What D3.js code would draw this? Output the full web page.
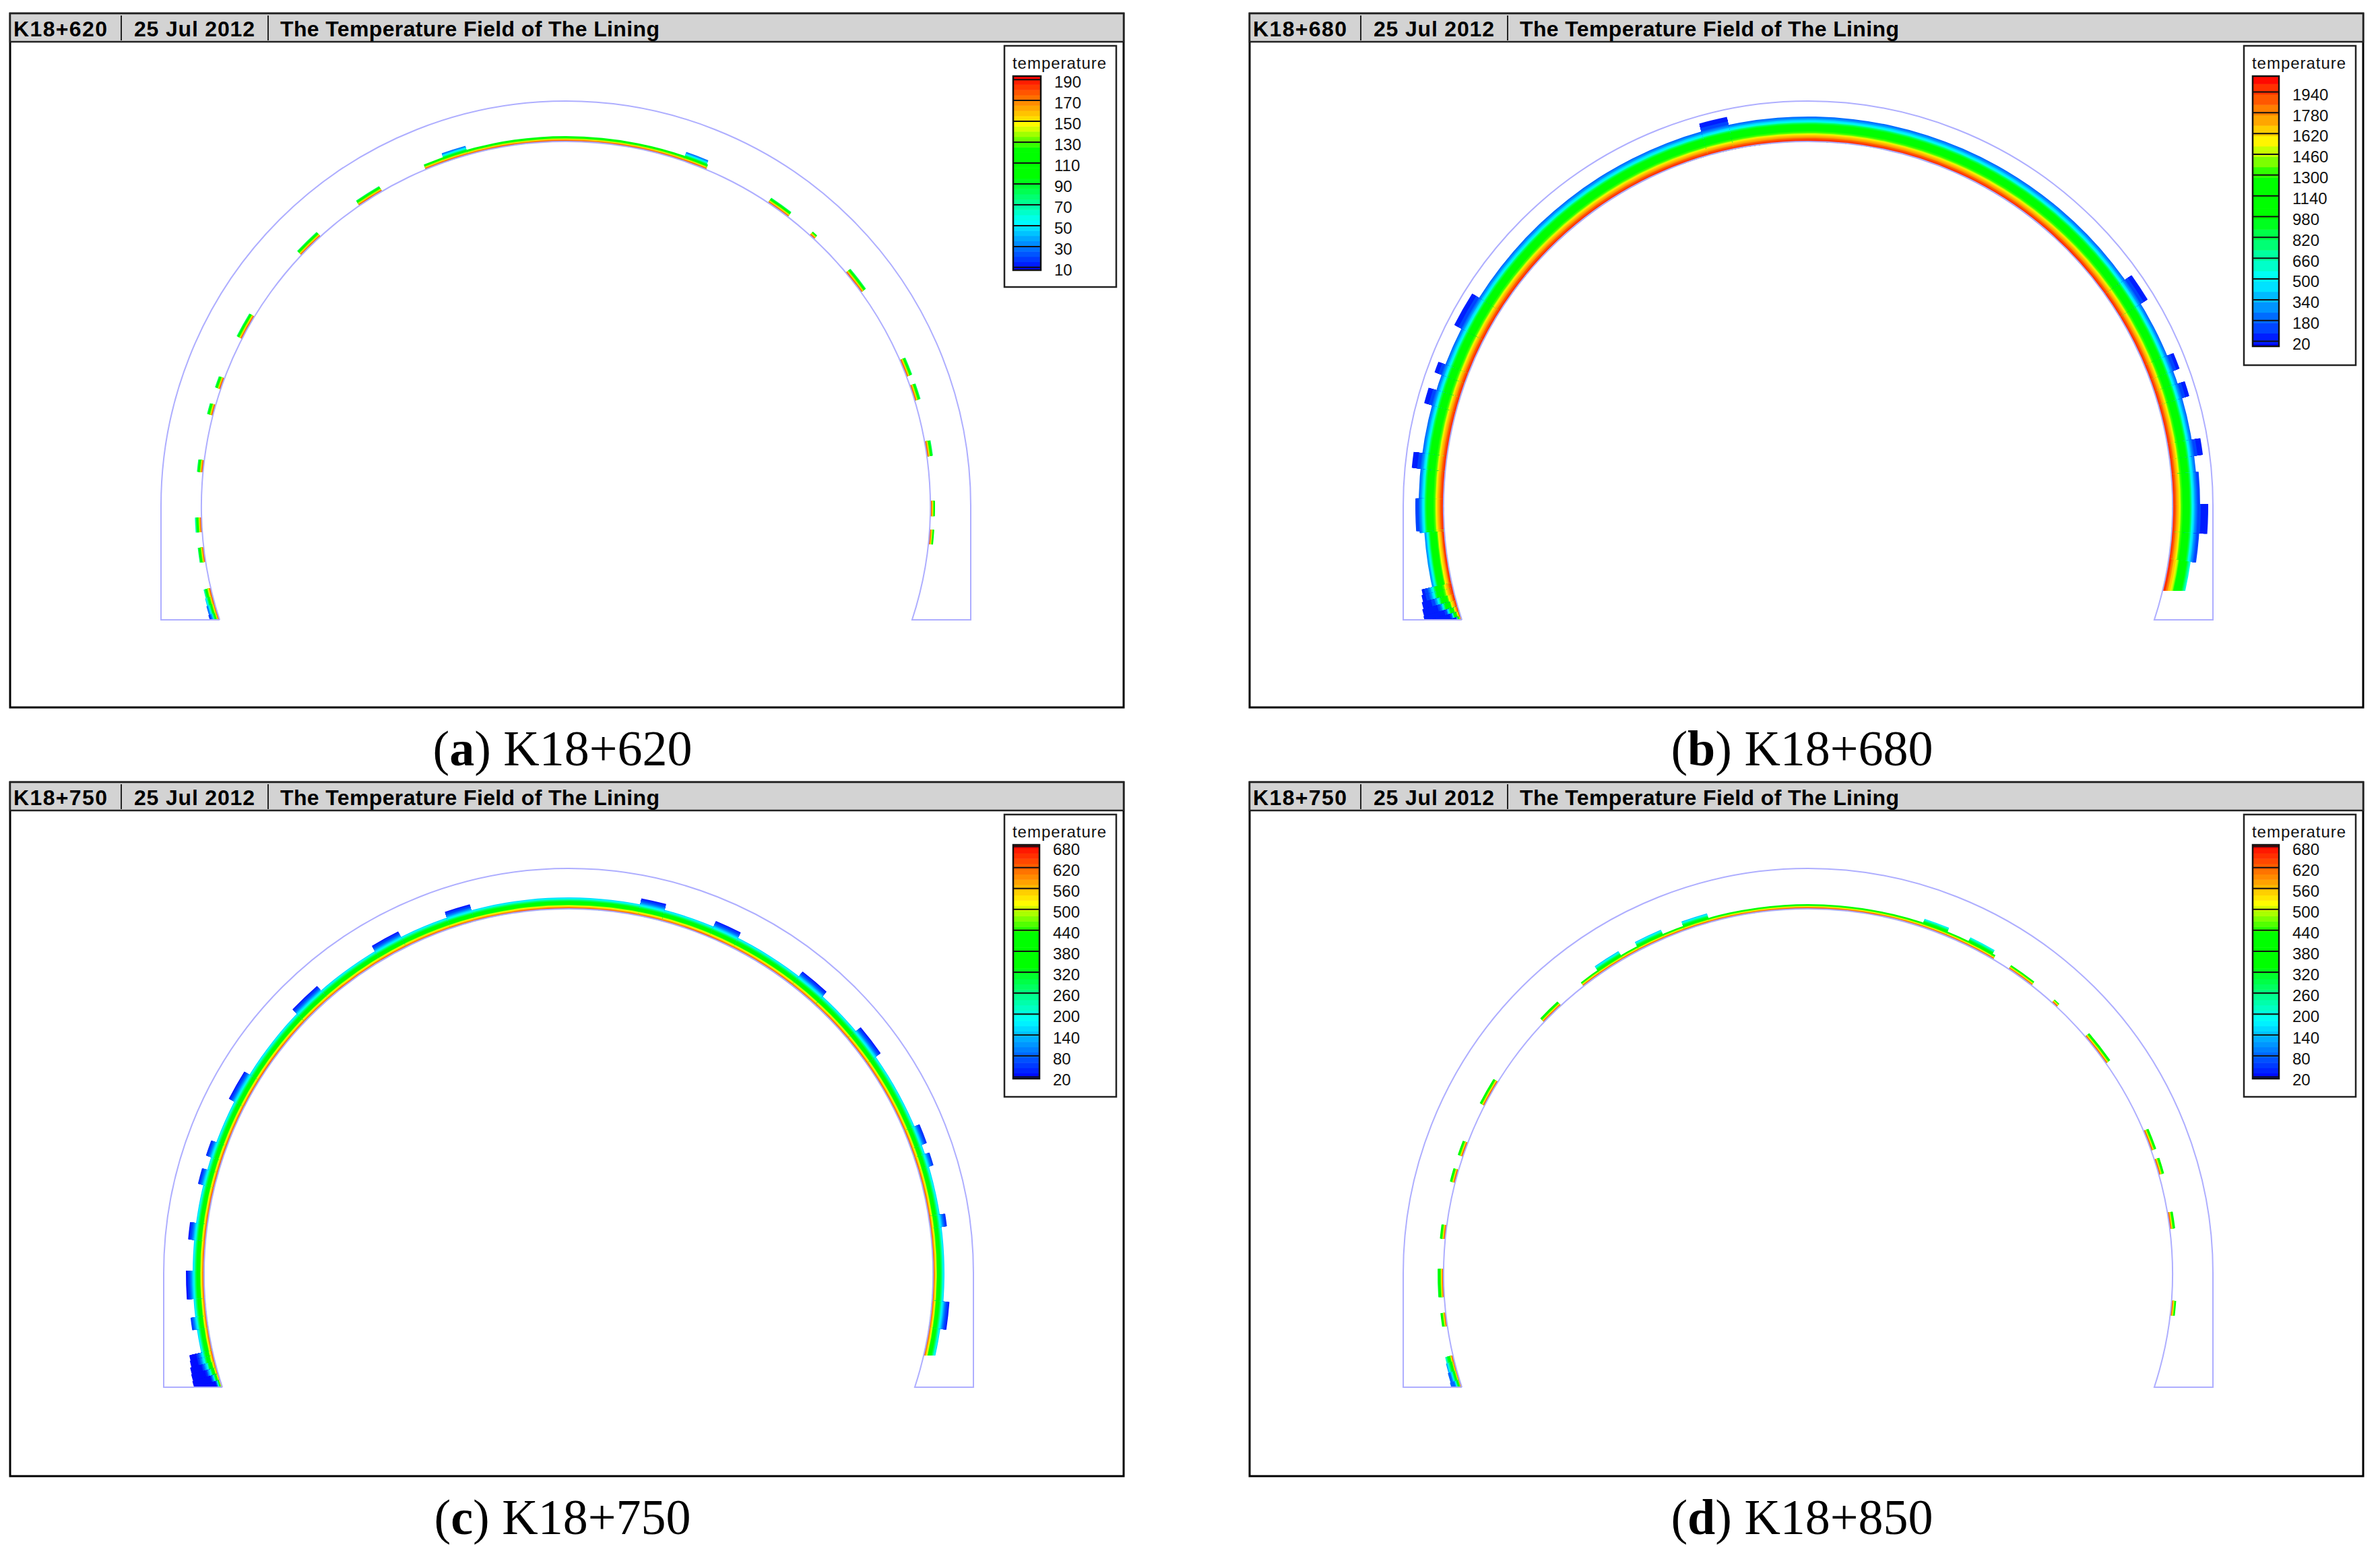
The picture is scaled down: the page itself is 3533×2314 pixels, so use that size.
<!DOCTYPE html>
<html>
<head>
<meta charset="utf-8">
<script src="https://cdn.jsdelivr.net/npm/d3@7"></script>
<style>
  html, body { margin: 0; padding: 0; background: #fff; }
  svg { display: block; }
  text { font-family: "Liberation Sans", Arial, sans-serif; }
  .caption { font-family: "Liberation Serif", "Times New Roman", serif; font-size: 74px; }
</style>
</head>
<body>
<svg id="chart" width="3533" height="2314"></svg>
<script>
// panel names
const sections = ["K18+620", "K18+680", "K18+750", "K18+750"]
const captionLetters = ["a", "b", "c", "d"]
const captionNames = ["K18+620", "K18+680", "K18+750", "K18+850"]
const dateLabel = "25 Jul 2012"
const titleLabel = "The Temperature Field of The Lining"

// legend tick labels
const ticksA = [190, 170, 150, 130, 110, 90, 70, 50, 30, 10]
const ticksB = [1940, 1780, 1620, 1460, 1300, 1140, 980, 820, 660, 500, 340, 180, 20]
const ticksC = [680, 620, 560, 500, 440, 380, 320, 260, 200, 140, 80, 20]
const ticksD = [680, 620, 560, 500, 440, 380, 320, 260, 200, 140, 80, 20]

// temperature range of each colour bar and width of one colour step
const rangeA = [7, 193], stepA = 5
const rangeB = [-21, 2059], stepB = 80
const rangeC = [14, 684], stepC = 15
const rangeD = [14, 684], stepD = 15

// temperature through the lining: depth from the inner face (cm) -> temperature
const depthA = [0, 2, 3.5, 5, 7, 9, 11, 14, 20]
const tempA = [193, 170, 150, 125, 100, 70, 45, 22, 8]
const depthB = [0, 4, 7, 11, 14, 25, 30, 34, 37, 46]
const tempB = [2050, 1900, 1700, 1550, 1300, 950, 500, 280, 150, 20]
const depthC = [0, 3, 5, 7, 12, 15, 19, 22, 26]
const tempC = [684, 560, 500, 400, 300, 180, 110, 60, 20]
const depthD = [0, 2, 4, 8, 12, 16]
const tempD = [684, 600, 480, 330, 180, 80]

// lining geometry, cm
const innerRadius = 541
const outerRadius = 601
const baseDrop = 169
const rightCutA = 169, rightCutB = 126, rightCutC = 122, rightCutD = 169

// heated patches: [start angle, end angle, depth, squeeze], degrees clockwise from the crown
const cellsA = [
    [-22.6, 22.6, 8], [-19.4, -15.6, 14], [18.8, 22.4, 14],
    [-34.5, -30.3, 9], [-46.5, -42.3, 9], [-62.7, -58.7, 9], [-71.3, -69.5, 9], [-75.6, -73.9, 9],
    [-84.7, -82.8, 9], [-94.1, -91.8, 10], [-98.8, -96.5, 9],
    [-104.4, -103, 11, 1.1], [-105.6, -104.4, 12, 1], [-107, -105.6, 13, .9], [-108.4, -107, 14, .8],
    [33.7, 37.5, 9], [42, 42.9, 7], [50.2, 54.1, 9], [66.4, 69.2, 9], [70.7, 73.2, 9], [79.8, 82.2, 9],
    [89.2, 91.6, 7], [93.7, 96, 7]
]
const cellsB = [
    [-94, 85, 37], [85, 98.3, 41], [98.3, 103.5, 33, 1.1], [-103.5, -94, 30, .85],
    [-15.9, -11.8, 49], [54.5, 58.7, 49], [67.3, 69.7, 47], [71.7, 73.9, 48], [80.2, 82.6, 50], [89.7, 94, 53],
    [-62.9, -57.7, 49], [-70.3, -68.7, 48], [-75, -72.7, 49], [-84.5, -82.2, 50], [-93.7, -88.9, 42],
    [-103, -102.2, 46, 1], [-104, -103, 48, 1], [-105, -104, 50, .85], [-106, -105, 52, .7], [-106.8, -106, 53, .5],
    [-107.6, -106.8, 54, .35], [-108.4, -107.6, 54, .2]
]
const cellsC = [
    [-103.3, 103.5, 17],
    [-18.9, -15, 26], [-31, -26.5, 26], [-46.3, -41.2, 26], [-62.8, -58.1, 26], [-72, -69.6, 25], [-76.4, -74, 25],
    [-84.9, -82.3, 26], [-93.9, -89.6, 27], [-98.6, -96.7, 24],
    [11, 14.8, 26], [22.7, 26.8, 26], [37.8, 42.5, 26], [49.9, 54.8, 26], [67, 70, 25], [71.5, 73.5, 24],
    [81, 82.9, 25], [94.3, 98.5, 26],
    [-103, -102.2, 35, 1], [-104, -103, 36, 1], [-105, -104, 38, .85], [-106, -105, 39, .7], [-107, -106, 40, .5],
    [-108.4, -107, 41, .3]
]
const cellsD = [
    [-38, 30.5, 7],
    [-34.8, -30.5, 14], [-27.6, -23.2, 14], [-19.8, -15.7, 14], [18.2, 22.2, 13], [25.8, 30, 13],
    [-46.4, -42.7, 8], [-62.6, -58.3, 8], [-71.3, -69, 8], [-75.6, -73.5, 8], [-84.6, -82.4, 8],
    [-93.7, -89.3, 9], [-98.3, -96.2, 8],
    [-104, -103, 12, 1], [-105.5, -104, 13, .85], [-107, -105.5, 14, .7], [-108.4, -107, 15, .55],
    [33.4, 37.8, 7], [42, 43, 6], [49.5, 54.8, 8], [67, 70.3, 8], [71.8, 74.3, 8], [80.4, 83, 8], [94.3, 96.6, 7]
]

// rainbow used by the solver: fraction of the range -> colour
const rampStops = [0, .25, .48, .62, .75, 1]
const rampColors = ["#0000ff", "#00ffff", "#00ff00", "#00ff00", "#ffff00", "#ff0000"]

const panels = [
    { i: 0, ticks: ticksA, range: rangeA, step: stepA, depth: depthA, temp: tempA, cells: cellsA, cut: rightCutA,
      left: 15, top: 20, cx: 840, cy: 751, barW: 41, barBottom: 401, boxBottom: 426 },
    { i: 1, ticks: ticksB, range: rangeB, step: stepB, depth: depthB, temp: tempB, cells: cellsB, cut: rightCutB,
      left: 1855, top: 20, cx: 2684, cy: 751, barW: 39, barBottom: 514, boxBottom: 542 },
    { i: 2, ticks: ticksC, range: rangeC, step: stepC, depth: depthC, temp: tempC, cells: cellsC, cut: rightCutC,
      left: 15, top: 1161, cx: 844, cy: 1890, barW: 39, barBottom: 1601, boxBottom: 1628 },
    { i: 3, ticks: ticksD, range: rangeD, step: stepD, depth: depthD, temp: tempD, cells: cellsD, cut: rightCutD,
      left: 1855, top: 1161, cx: 2684, cy: 1890, barW: 39, barBottom: 1601, boxBottom: 1628 }
]

const frameW = 1653, frameH = 1030, headH = 42

const svg = d3.select("#chart")
const toRad = d => d * Math.PI / 180
const radius = d3.scaleLinear().domain([0, outerRadius]).range([0, outerRadius])

const drawPanel = p => {
    const g = svg.append("g")

    // temperature colours, stepped like the contour bands
    const ramp = d3.scaleLinear()
        .domain(rampStops.map(s => p.range[0] + s * (p.range[1] - p.range[0])))
        .range(rampColors)
    const stepped = t => ramp(Math.floor(t / p.step) * p.step + p.step / 2)
    const profile = d3.scaleLinear().domain(p.depth).range(p.temp).clamp(true)

    g.append("rect")
        .attr("x", p.left).attr("y", p.top)
        .attr("width", frameW).attr("height", frameH)
        .attr("fill", "#fff").attr("stroke", "#000").attr("stroke-width", 3)

    // header strip
    g.append("rect")
        .attr("x", p.left).attr("y", p.top)
        .attr("width", frameW).attr("height", headH)
        .attr("fill", "#d3d3d3").attr("stroke", "#222").attr("stroke-width", 2.5)
    const heads = [
        { text: sections[p.i], x: 5, w: 139 },
        { text: dateLabel, x: 184, w: 179 },
        { text: titleLabel, x: 401, w: 563 }
    ]
    g.selectAll(".head").data(heads).join("text")
        .attr("class", "head")
        .attr("x", d => p.left + d.x).attr("y", p.top + 34)
        .attr("textLength", d => d.w).attr("lengthAdjust", "spacing")
        .attr("font-size", 32).attr("font-weight", "bold").attr("fill", "#000")
        .text(d => d.text)
    g.selectAll(".sep").data([165, 383]).join("line")
        .attr("class", "sep")
        .attr("x1", d => p.left + d).attr("x2", d => p.left + d)
        .attr("y1", p.top + 3).attr("y2", p.top + headH - 2)
        .attr("stroke", "#222").attr("stroke-width", 2)

    // temperature field
    const clipId = "clip" + p.i
    const clip = g.append("clipPath").attr("id", clipId)
    clip.append("rect").attr("x", -outerRadius).attr("y", -outerRadius)
        .attr("width", outerRadius).attr("height", outerRadius + baseDrop)
    clip.append("rect").attr("x", 0).attr("y", -outerRadius)
        .attr("width", outerRadius).attr("height", outerRadius + p.cut)

    const tunnel = g.append("g").attr("transform", `translate(${p.cx},${p.cy})`)
    const field = tunnel.append("g").attr("clip-path", `url(#${clipId})`)

    const arc = d3.arc()
    p.cells.forEach(c => {
        const squeeze = c[3] || 1
        // paint from the outer edge inwards so rings leave no seams
        for (let d = c[2]; d > 0; d -= 1) {
            field.append("path")
                .attr("d", arc({
                    innerRadius: radius(innerRadius),
                    outerRadius: radius(innerRadius + d),
                    startAngle: toRad(c[0]),
                    endAngle: toRad(c[1])
                }))
                .attr("fill", stepped(profile((d - .5) / squeeze)))
        }
    })

    // lining outline
    const footIn = Math.sqrt(innerRadius * innerRadius - baseDrop * baseDrop)
    const outline = d3.path()
    outline.moveTo(radius(-footIn), radius(baseDrop))
    outline.lineTo(radius(-outerRadius), radius(baseDrop))
    outline.lineTo(radius(-outerRadius), 0)
    outline.arc(0, 0, radius(outerRadius), Math.PI, 0)
    outline.lineTo(radius(outerRadius), radius(baseDrop))
    outline.lineTo(radius(footIn), radius(baseDrop))
    outline.arc(0, 0, radius(innerRadius), Math.atan2(baseDrop, footIn), Math.atan2(baseDrop, -footIn), true)
    tunnel.append("path")
        .attr("d", outline.toString())
        .attr("fill", "none").attr("stroke", "#aeaeff").attr("stroke-width", 2)

    // legend
    const boxX = p.left + 1476, barX = boxX + 13, barTop = p.top + 93
    g.append("rect")
        .attr("x", boxX).attr("y", p.top + 48)
        .attr("width", 166).attr("height", p.boxBottom - 48 - p.top)
        .attr("fill", "#fff").attr("stroke", "#222").attr("stroke-width", 2.5)
    g.append("text")
        .attr("x", barX - 1).attr("y", p.top + 82)
        .attr("textLength", 139).attr("lengthAdjust", "spacing")
        .attr("font-size", 24).attr("fill", "#111")
        .text("temperature")

    const y = d3.scaleLinear().domain(p.range).range([p.barBottom, barTop])
    const levels = d3.range(Math.floor(p.range[0] / p.step) * p.step, p.range[1], p.step)
    g.selectAll(".cell").data(levels).join("rect")
        .attr("class", "cell")
        .attr("x", barX).attr("width", p.barW)
        .attr("y", d => Math.max(y(d + p.step), barTop))
        .attr("height", d => Math.min(y(d), p.barBottom) - Math.max(y(d + p.step), barTop) + .5)
        .attr("fill", d => ramp(d + p.step / 2))
    g.append("rect")
        .attr("x", barX).attr("y", barTop)
        .attr("width", p.barW).attr("height", p.barBottom - barTop)
        .attr("fill", "none").attr("stroke", "#111").attr("stroke-width", 2.5)

    const axis = d3.axisRight(y).tickValues(p.ticks).tickFormat(d3.format("d"))
        .tickSizeInner(-p.barW).tickSizeOuter(0).tickPadding(20)
    const axisG = g.append("g")
        .attr("transform", `translate(${barX + p.barW},0)`)
        .call(axis)
    axisG.select(".domain").remove()
    axisG.selectAll("line").attr("stroke", "#111").attr("stroke-width", 2)
    axisG.selectAll("text")
        .attr("font-size", 24).attr("fill", "#111")
        .attr("font-family", "Liberation Sans")
        .attr("dy", "0.68em").attr("y", -4)

    // caption under the frame
    const cap = svg.append("text")
        .attr("class", "caption")
        .attr("x", p.left + 820)
        .attr("y", p.top + 1116)
        .attr("text-anchor", "middle")
        .attr("fill", "#000")
    cap.append("tspan").text("(")
    cap.append("tspan").attr("font-weight", "bold").text(captionLetters[p.i])
    cap.append("tspan").text(") " + captionNames[p.i])
}

panels.forEach(drawPanel)
</script>
</body>
</html>
